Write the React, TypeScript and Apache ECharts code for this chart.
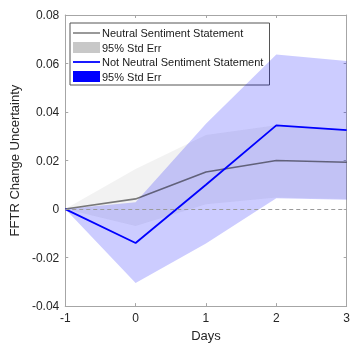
import React, { useEffect, useRef } from "react";
import * as echarts from "echarts";

const days = [-1, 0, 1, 2, 3];
const neutralMean = [0, 0.0042, 0.0153, 0.0200, 0.0193];
const neutralLower = [0, -0.0070, 0.0020, 0.0048, 0.0042];
const neutralUpper = [0, 0.0165, 0.0305, 0.0346, 0.0330];
const notNeutralMean = [0, -0.0140, 0.0100, 0.0345, 0.0325];
const notNeutralLower = [0, -0.0305, -0.0142, 0.0045, 0.0038];
const notNeutralUpper = [0, 0.0028, 0.0352, 0.0637, 0.0610];
const legendLabels = [
  "Neutral Sentiment Statement",
  "95% Std Err",
  "Not Neutral Sentiment Statement",
  "95% Std Err",
];

const FONT = "Liberation Sans, Arial, Helvetica, sans-serif";

function band(lower: number[], upper: number[], fill: string) {
  return {
    type: "custom",
    silent: true,
    data: [[days[0], lower[0]]],
    renderItem: (_p: any, api: any) => {
      const pts: number[][] = [];
      days.forEach((d, i) => pts.push(api.coord([d, upper[i]])));
      for (let i = days.length - 1; i >= 0; i--) pts.push(api.coord([days[i], lower[i]]));
      return { type: "polygon", shape: { points: pts }, style: { fill, stroke: "none" } };
    },
  };
}

export default function App() {
  const ref = useRef<HTMLDivElement>(null);
  useEffect(() => {
    if (!ref.current) return;
    const chart = echarts.init(ref.current, null, { renderer: "svg" });
    const axisColor = "#a6a6a6";
    const lgX = 70, lgY = 23;
    const rowY = [33, 47.5, 62, 76.5];
    chart.setOption({
      animation: false,
      grid: { left: 61, right: 2, top: 15, bottom: 37 },
      xAxis: [
        {
          type: "value", min: -1, max: 3, interval: 1,
          name: "Days", nameLocation: "middle", nameGap: 22,
          nameTextStyle: { fontSize: 13, color: "#262626", fontFamily: FONT },
          axisLine: { show: true, onZero: false, lineStyle: { color: axisColor } },
          axisTick: { show: true, inside: true, length: 3, lineStyle: { color: axisColor } },
          axisLabel: { fontSize: 12, color: "#262626", fontFamily: FONT, margin: 6 },
          splitLine: { show: false },
        },
        {
          type: "value", min: -1, max: 3, interval: 1, position: "top",
          axisLine: { show: true, onZero: false, lineStyle: { color: axisColor } },
          axisTick: { show: true, inside: true, length: 3, lineStyle: { color: axisColor } },
          axisLabel: { show: false },
          splitLine: { show: false },
        },
      ],
      yAxis: [
        {
          type: "value", min: -0.04, max: 0.08, interval: 0.02,
          name: "FFTR Change Uncertainty", nameLocation: "middle", nameGap: 33,
          nameTextStyle: { fontSize: 13, color: "#262626", fontFamily: FONT },
          axisLine: { show: true, onZero: false, lineStyle: { color: axisColor } },
          axisTick: { show: true, inside: true, length: 3, lineStyle: { color: axisColor } },
          axisLabel: {
            fontSize: 12, color: "#262626", fontFamily: FONT, margin: 6,
            formatter: (v: number) => String(+v.toFixed(2)),
          },
          splitLine: { show: false },
        },
        {
          type: "value", min: -0.04, max: 0.08, interval: 0.02, position: "right",
          axisLine: { show: true, onZero: false, lineStyle: { color: axisColor } },
          axisTick: { show: true, inside: true, length: 3, lineStyle: { color: axisColor } },
          axisLabel: { show: false },
          splitLine: { show: false },
        },
      ],
      series: [
        band(neutralLower, neutralUpper, "rgba(128,128,128,0.1)"),
        band(notNeutralLower, notNeutralUpper, "rgba(0,0,255,0.2)"),
        {
          type: "line",
          data: days.map((d, i) => [d, neutralMean[i]]),
          symbol: "none",
          lineStyle: { color: "rgba(0,0,0,0.5)", width: 1.6 },
          markLine: {
            silent: true, symbol: ["none", "none"], label: { show: false },
            lineStyle: { type: [4, 3], color: "#9a9a9a", width: 1 },
            data: [{ yAxis: 0 }],
          },
        },
        {
          type: "line",
          data: days.map((d, i) => [d, notNeutralMean[i]]),
          symbol: "none",
          lineStyle: { color: "#0000ff", width: 1.8 },
        },
      ],
      graphic: [
        {
          type: "group", z: 100,
          children: [
            { type: "rect", shape: { x: lgX, y: lgY, width: 199.5, height: 62 }, style: { fill: "#fff", stroke: "#555", lineWidth: 1 } },
            { type: "line", shape: { x1: 73, y1: rowY[0], x2: 100, y2: rowY[0] }, style: { stroke: "rgba(0,0,0,0.5)", lineWidth: 1.6 } },
            { type: "rect", shape: { x: 73, y: rowY[1] - 5.5, width: 27, height: 11 }, style: { fill: "#c8c8c8" } },
            { type: "line", shape: { x1: 73, y1: rowY[2], x2: 100, y2: rowY[2] }, style: { stroke: "#0000ff", lineWidth: 1.8 } },
            { type: "rect", shape: { x: 73, y: rowY[3] - 5.5, width: 27, height: 11 }, style: { fill: "#0000ff" } },
            ...legendLabels.map((t, i) => ({
              type: "text", x: 102, y: rowY[i],
              style: { text: t, fontSize: 11, fontFamily: FONT, fill: "#1a1a1a", verticalAlign: "middle", align: "left" },
            })),
          ],
        },
      ],
    });
    return () => chart.dispose();
  }, []);
  return (
    <div style={{ position: "fixed", left: 0, top: 0, width: 353, height: 347, overflow: "hidden" }}>
      <div ref={ref} style={{ width: 353, height: 347 }} />
    </div>
  );
}
